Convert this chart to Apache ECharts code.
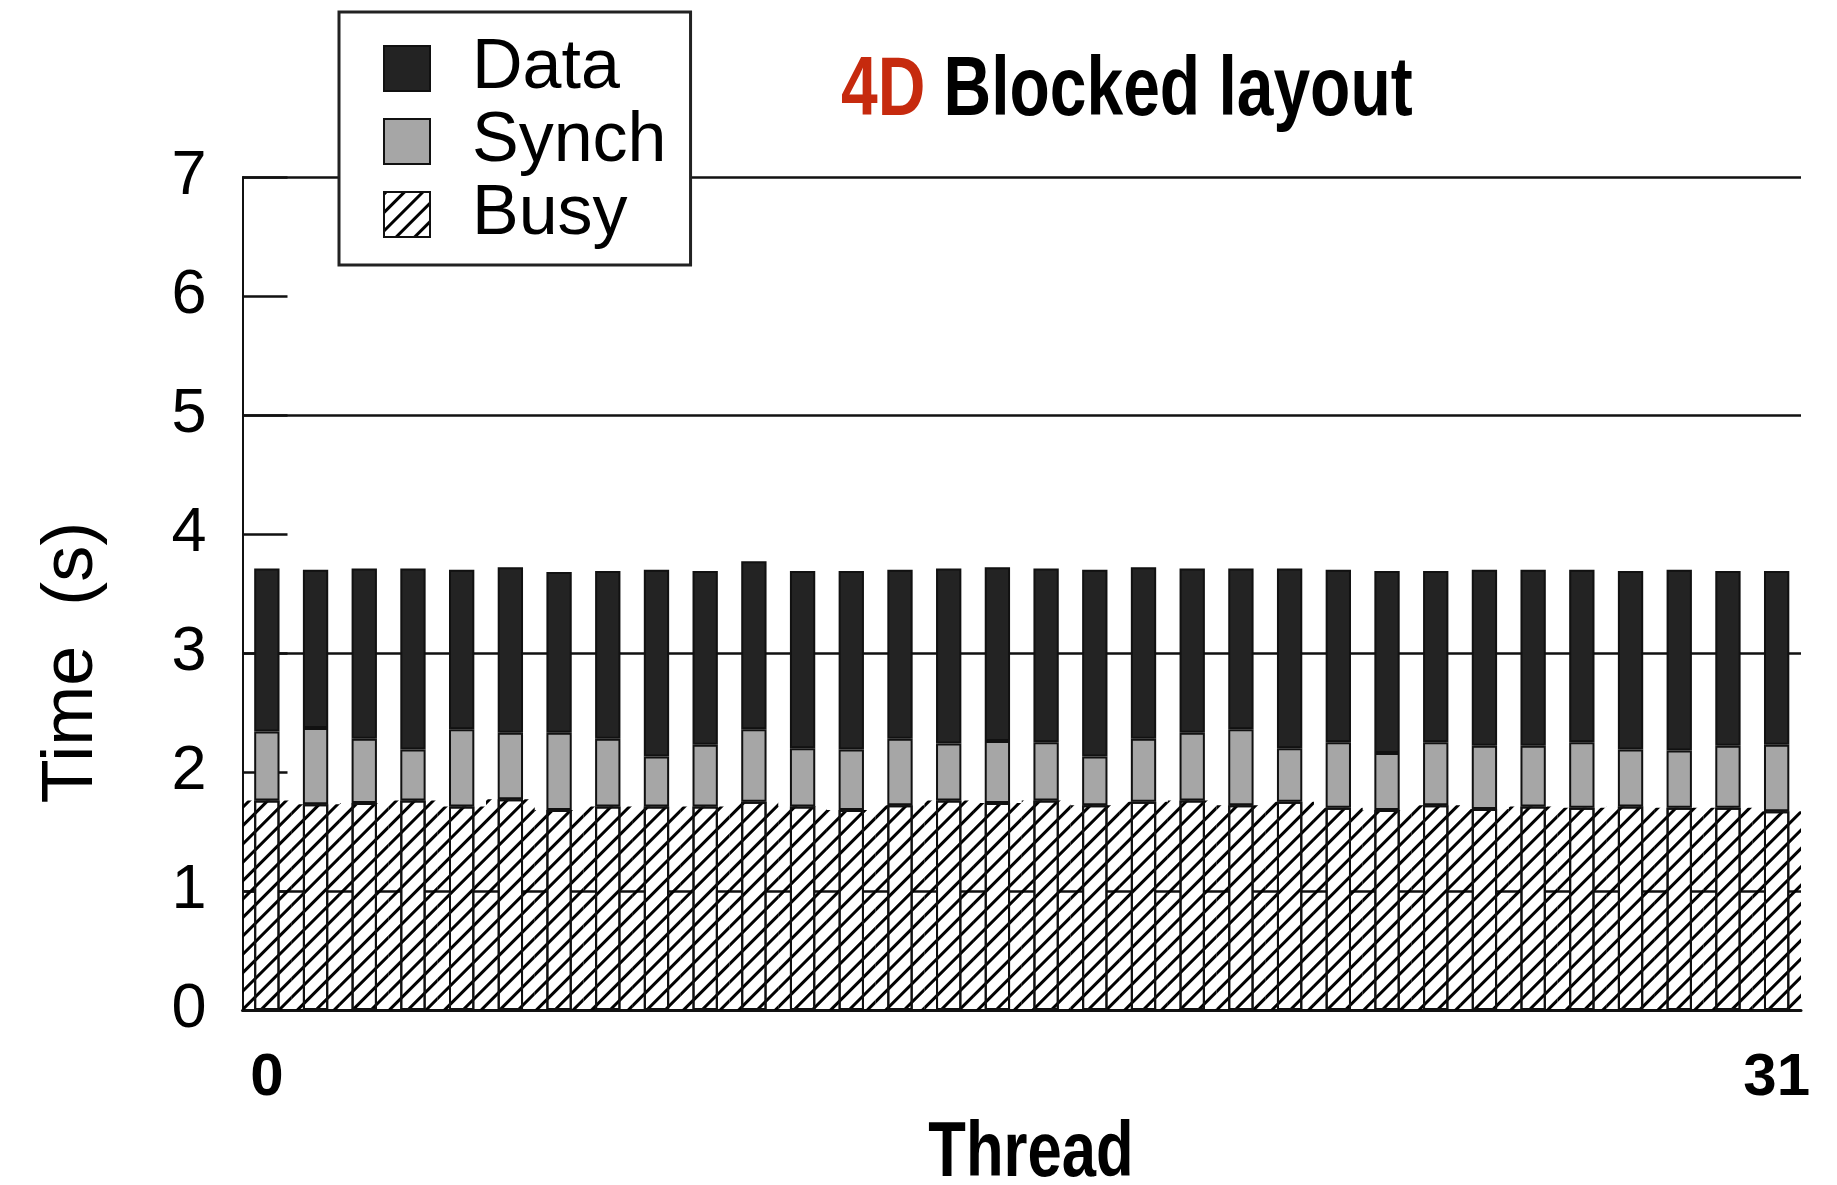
<!DOCTYPE html>
<html>
<head>
<meta charset="utf-8">
<script src="https://cdn.jsdelivr.net/npm/echarts@6/dist/echarts.min.js"></script>
<style>
html,body{margin:0;padding:0;background:#fff;}
#chart{width:1837px;height:1185px;}
</style>
</head>
<body>
<div id="chart"></div>
<script>
// ---- data ----
const threads = ['0','1','2','3','4','5','6','7','8','9','10','11','12','13','14','15','16','17','18','19','20','21','22','23','24','25','26','27','28','29','30','31'];
const busy  = [1.76,1.73,1.74,1.76,1.71,1.77,1.68,1.71,1.71,1.71,1.75,1.71,1.68,1.72,1.76,1.74,1.76,1.72,1.75,1.76,1.72,1.75,1.70,1.68,1.72,1.69,1.71,1.70,1.71,1.70,1.70,1.67];
const synch = [0.58,0.64,0.54,0.43,0.65,0.56,0.65,0.57,0.42,0.52,0.61,0.49,0.51,0.56,0.48,0.52,0.49,0.41,0.53,0.57,0.64,0.45,0.55,0.48,0.53,0.53,0.51,0.55,0.48,0.48,0.52,0.56];
const dataT = [1.37,1.33,1.43,1.52,1.34,1.39,1.35,1.41,1.57,1.46,1.41,1.49,1.50,1.42,1.47,1.46,1.46,1.57,1.44,1.38,1.35,1.51,1.45,1.53,1.44,1.48,1.48,1.45,1.50,1.52,1.47,1.46];
const shownXLabels = ['0','31'];
const seriesNames = ['Data','Synch','Busy'];
const titleParts = ['4D', ' Blocked layout'];
const xName = 'Thread';
const yName = 'Time  (s)';

const boldFont = '"Liberation Sans", Arial, Helvetica, sans-serif';
const helv = '"Liberation Sans", Arial, Helvetica, sans-serif';

const hatch = {
  symbol: 'rect',
  symbolSize: 1,
  rotation: -Math.PI / 4,
  dashArrayX: [1, 0],
  dashArrayY: [2.6, 9.4],
  color: '#000',
  backgroundColor: 'rgba(0,0,0,0)'
};

const chart = echarts.init(document.getElementById('chart'), null, {renderer: 'canvas'});
chart.setOption({
  backgroundColor: '#fff',
  animation: false,
  aria: { enabled: false },
  graphic: [
    {
      type: 'text',
      x: 841,
      y: 92,
      scaleX: 0.785,
      z: 20,
      style: {
        text: '{a|' + titleParts[0] + '}{b|' + titleParts[1] + '}',
        verticalAlign: 'middle',
        align: 'left',
        rich: {
          a: { fill: '#c62a0e', fontSize: 84, fontWeight: 'bold', fontFamily: boldFont },
          b: { fill: '#000', fontSize: 84, fontWeight: 'bold', fontFamily: boldFont }
        }
      }
    },
    {
      type: 'text',
      x: 1031,
      y: 1155,
      scaleX: 0.8,
      z: 20,
      style: {
        text: xName,
        align: 'center',
        verticalAlign: 'middle',
        fill: '#000',
        fontSize: 77,
        fontWeight: 'bold',
        fontFamily: boldFont
      }
    }
  ],
  legend: {
    data: seriesNames,
    orient: 'vertical',
    left: 339,
    top: 12,
    padding: [20, 24, 14, 44],
    itemWidth: 46,
    itemHeight: 45,
    itemGap: 0,
    icon: 'rect',
    backgroundColor: '#fff',
    borderColor: '#222',
    borderWidth: 3,
    z: 10,
    textStyle: {
      fontFamily: helv,
      fontSize: 70,
      lineHeight: 73,
      color: '#000',
      padding: [0, 0, 0, 37]
    }
  },
  grid: { left: 242.5, right: 36, top: 177, bottom: 175, outerBoundsMode: 'none', containLabel: false },
  xAxis: [
    {
      type: 'category',
      data: threads,
      axisLine: { lineStyle: { color: '#111', width: 3 } },
      axisTick: { show: false },
      axisLabel: {
        interval: 0,
        margin: 38,
        fontFamily: boldFont,
        fontWeight: 'bold',
        fontSize: 60,
        color: '#000',
        formatter: function (v) { return shownXLabels.indexOf(v) >= 0 ? v : ''; }
      },
      splitLine: { show: false }
    },
    {
      type: 'category',
      data: threads,
      show: false,
      position: 'bottom'
    }
  ],
  yAxis: {
    type: 'value',
    min: 0,
    max: 7,
    interval: 1,
    name: yName,
    nameLocation: 'middle',
    nameRotate: 90,
    nameGap: 134,
    nameTextStyle: { fontFamily: helv, fontSize: 72, color: '#000', padding: [0, 138, 0, 0] },
    axisLine: { show: true, lineStyle: { color: '#111', width: 2 } },
    axisTick: { show: true, inside: true, length: 45, lineStyle: { color: '#111', width: 2.5 } },
    axisLabel: { margin: 36, fontFamily: helv, fontSize: 63, color: '#000' },
    splitLine: { show: true, lineStyle: { color: ['rgba(0,0,0,0)', '#111'], width: 2.5 } }
  },
  series: [
    {
      name: 'bg',
      type: 'bar',
      xAxisIndex: 1,
      data: busy,
      barWidth: '100%',
      silent: true,
      z: 1,
      itemStyle: { color: 'rgba(0,0,0,0)', decal: hatch },
      emphasis: { disabled: true }
    },
    {
      name: 'Busy',
      type: 'bar',
      stack: 't',
      data: busy,
      barWidth: '52%',
      z: 3,
      itemStyle: { color: '#fff', borderColor: '#111', borderWidth: 2, decal: hatch }
    },
    {
      name: 'Synch',
      type: 'bar',
      stack: 't',
      data: synch,
      barWidth: '52%',
      z: 3,
      itemStyle: { color: '#a6a6a6', borderColor: '#111', borderWidth: 2 }
    },
    {
      name: 'Data',
      type: 'bar',
      stack: 't',
      data: dataT,
      barWidth: '52%',
      z: 3,
      itemStyle: { color: '#232323', borderColor: '#111', borderWidth: 2 }
    }
  ]
});
</script>
</body>
</html>
